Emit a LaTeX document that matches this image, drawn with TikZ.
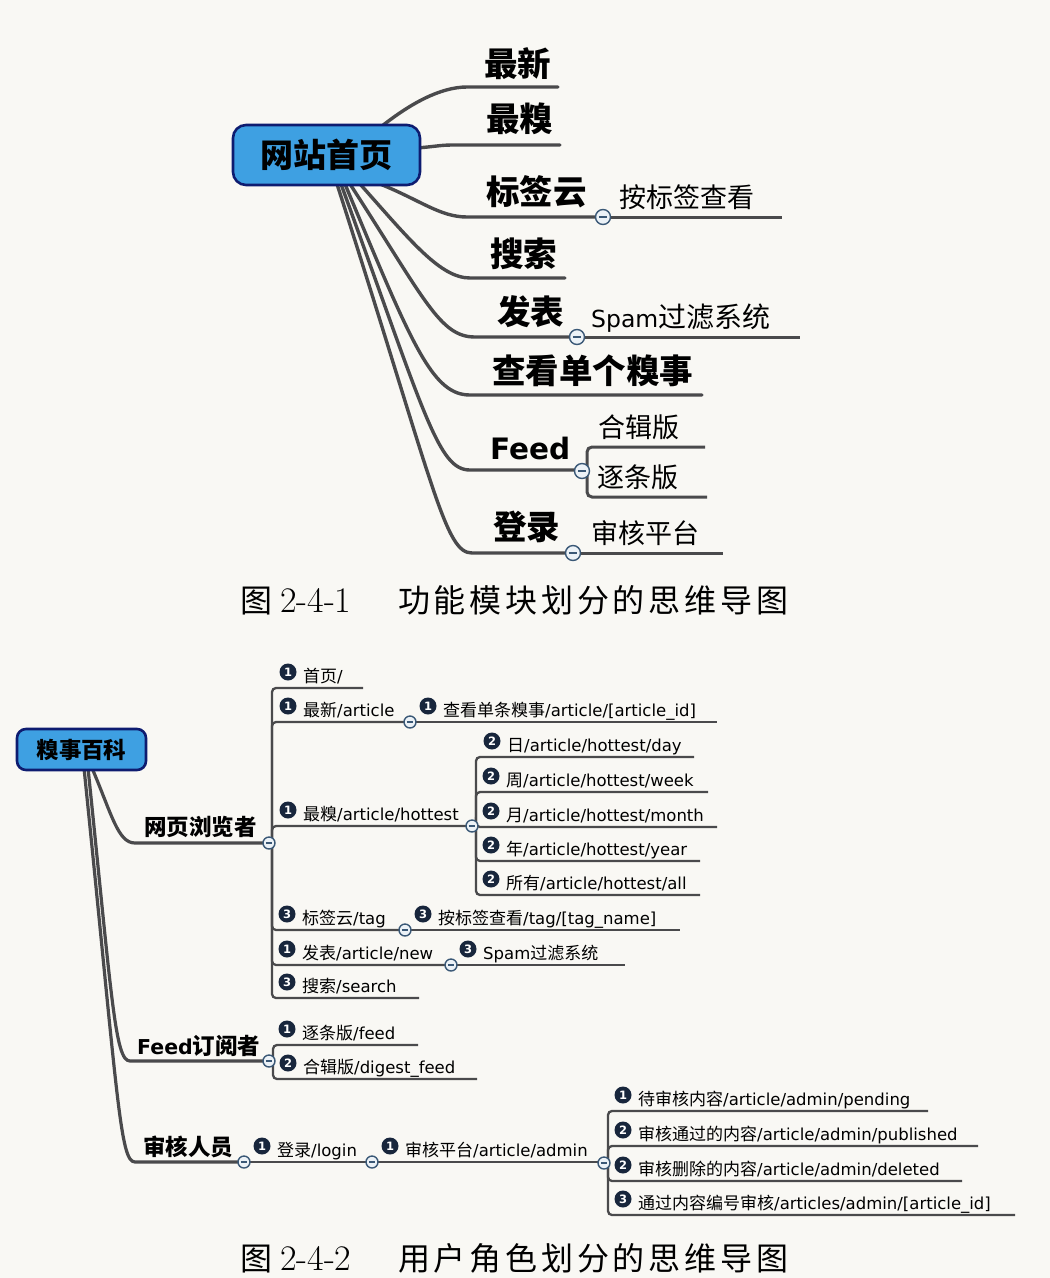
\documentclass[tikz,border=0pt]{standalone}
\usepackage{fontspec}
\setsansfont{DejaVu Sans}
\newfontfamily\cjk{Noto Sans CJK SC}
\definecolor{bgc}{RGB}{249,248,244}
\definecolor{lnc}{RGB}{74,74,76}
\definecolor{rootfill}{RGB}{62,160,226}
\definecolor{rootdraw}{RGB}{14,28,112}
\definecolor{collfill}{RGB}{236,242,247}
\definecolor{colldraw}{RGB}{58,88,118}
\definecolor{prioc}{RGB}{24,38,60}
\newcommand\C[1]{{\cjk\fontsize{17}{20}\selectfont #1}}
% top item: name, x0, x1, y, text x, baseline y, style, text
\newcommand\titem[8]{%
  \coordinate (#1-s) at (#2,#4);
  \coordinate (#1-e) at (#3,#4);
  \node[#7] (#1) at (#5,#6) {#8};}
% bottom item: name, x0, x1, y, digit, text x, text
\newcommand\bitem[7]{%
  \coordinate (#1-s) at (#2,#4);
  \coordinate (#1-e) at (#3,#4);
  \node[prio] (#1-p) at (#6-15,#4-16) {#5};
  \node[btxt] (#1) at (#6,#4-5.5) {#7};}
\tikzset{
  tbr/.style={draw=lnc, line width=3.4pt, line cap=round},
  tul/.style={draw=lnc, line width=3pt, rounded corners=5pt},
  bbr/.style={draw=lnc, line width=3.2pt, line cap=round},
  bul/.style={draw=lnc, line width=2.3pt, rounded corners=4pt},
  coll/.style={circle, draw=colldraw, fill=collfill, line width=1.4pt, inner sep=0pt,
    minimum size=#1,
    path picture={\draw[colldraw, line width=1.4pt]
      ([xshift=-0.27*#1]path picture bounding box.center) --
      ([xshift=0.27*#1]path picture bounding box.center);}},
  prio/.style={circle, fill=prioc, text=white, inner sep=0pt, minimum size=17pt,
    font=\sffamily\bfseries\fontsize{11.5}{11.5}\selectfont},
  tbig/.style={anchor=base west, inner sep=0pt, font=\cjk\bfseries\fontsize{33.5}{37}\selectfont},
  tsm/.style={anchor=base west, inner sep=0pt, font=\cjk\fontsize{27}{30}\selectfont},
  btxt/.style={anchor=base west, inner sep=0pt, font=\sffamily\fontsize{16.5}{20}\selectfont},
  lone/.style={anchor=base west, inner sep=0pt, font=\cjk\bfseries\fontsize{22.5}{26}\selectfont},
  rootbox/.style={rectangle, rounded corners=#1, fill=rootfill, draw=rootdraw,
    line width=2.6pt, inner sep=0pt},
  capt/.style={anchor=base west, inner sep=0pt, font=\cjk\fontsize{32}{36}\selectfont},
  capn/.style={anchor=base west, inner sep=0pt, font=\rmfamily\fontsize{36}{40}\selectfont},
}
\newcommand\K{\kern3.8pt }
\begin{document}
\begin{tikzpicture}[x=1pt,y=-1pt]
\fill[bgc] (0,0) rectangle (1050,1278);
\useasboundingbox (0,0) rectangle (1050,1278);

%================ TOP MIND MAP =================
\titem{zx}{467}{558}{87}{484}{76.5}{tbig}{最新}
\titem{zq}{452}{560}{145}{486}{131.5}{tbig}{最糗}
\titem{bq}{467}{603}{217}{486}{204.5}{tbig}{标签云}
\titem{ak}{603}{782}{217}{619}{207.5}{tsm}{按标签查看}
\titem{ss}{470}{565}{278}{490}{266.5}{tbig}{搜索}
\titem{fb}{475}{577}{337}{497}{324.5}{tbig}{发表}
\titem{sp}{577}{800}{337}{591}{327.5}{tsm}{{\sffamily\fontsize{23.5}{28}\selectfont Spam}{\fontsize{28}{30}\selectfont 过滤系统}}
\titem{ck}{470}{702}{395}{492}{383.5}{tbig}{查看单个糗事}
\titem{fd}{470}{582}{470}{490}{459.5}{tbig}{{\sffamily\bfseries\fontsize{29.5}{34}\selectfont Feed}}
\titem{hj}{587}{705}{447}{598}{437.5}{tsm}{合辑版}
\titem{zt}{587}{707}{497}{597}{487.5}{tsm}{逐条版}
\titem{dl}{472}{573}{553}{493}{539.5}{tbig}{登录}
\titem{sh}{573}{723}{553}{591}{543.5}{tsm}{审核平台}

% start points on the root
\coordinate (r1) at (382,126);
\coordinate (r2) at (416,148);
\coordinate (r3) at (380,184);
\coordinate (r4) at (360,184);
\coordinate (r5) at (350,184);
\coordinate (r6) at (345,184);
\coordinate (r7) at (341,184);
\coordinate (r8) at (337,184);

\draw[tbr] (r1) .. controls (410,104) and (440,87) .. (zx-s) -- (zx-e);
\draw[tbr] (r2) .. controls (432,147) and (440,145) .. (zq-s) -- (zq-e);
\draw[tbr] (r3) .. controls (420,200) and (440,217) .. (bq-s) -- (bq-e);
\draw[tbr] (r4) .. controls (410,240) and (440,278) .. (ss-s) -- (ss-e);
\draw[tbr] (r5) .. controls (425,300) and (440,337) .. (fb-s) -- (fb-e);
\draw[tbr] (r6) .. controls (412,345) and (432,395) .. (ck-s) -- (ck-e);
\draw[tbr] (r7) .. controls (425,415) and (438,470) .. (fd-s) -- (fd-e);
\draw[tbr] (r8) .. controls (435,490) and (445,553) .. (dl-s) -- (dl-e);

\draw[tul] (bq-e) -- (ak-e);
\draw[tul] (fb-e) -- (sp-e);
\draw[tul] (dl-e) -- (sh-e);
\coordinate (fdbar) at (587,470);
\draw[tul] (fdbar) |- (hj-e);
\draw[tul] (fdbar) |- (zt-e);

\node[coll=15pt] (c-bq) at (bq-e) {};
\node[coll=15pt] (c-fb) at (fb-e) {};
\node[coll=15pt] (c-fd) at (582,471) {};
\node[coll=15pt] (c-dl) at (dl-e) {};

\node[rootbox=13pt, minimum width=187pt, minimum height=60pt,
      font=\cjk\bfseries\fontsize{33}{37}\selectfont] (root) at (326.5,155) {网站首页};

\node[capt] (cap1a) at (240,612) {图};
\node[capn] (cap1b) at (280,612) {2-4-1};
\node[capt] (cap1c) at (398,612) {功\K 能\K 模\K 块\K 划\K 分\K 的\K 思\K 维\K 导\K 图};

%================ BOTTOM MIND MAP =================
\bitem{shouye}{272}{363}{688}{1}{303}{\C{首页}/}
\bitem{zuixin}{272}{410}{722}{1}{303}{\C{最新}/article}
\bitem{chakan}{410}{717}{722}{1}{443}{\C{查看单条糗事}/article/[article\_id]}
\bitem{zuiqiu}{272}{472}{826}{1}{303}{\C{最糗}/article/hottest}
\bitem{day}{476}{694}{757}{2}{507}{\C{日}/article/hottest/day}
\bitem{week}{476}{708}{792}{2}{506}{\C{周}/article/hottest/week}
\bitem{month}{476}{717}{827}{2}{506}{\C{月}/article/hottest/month}
\bitem{year}{476}{700}{861}{2}{506}{\C{年}/article/hottest/year}
\bitem{all}{476}{700}{895}{2}{506}{\C{所有}/article/hottest/all}
\bitem{tag}{272}{405}{930}{3}{302}{\C{标签云}/tag}
\bitem{tagname}{405}{680}{930}{3}{438}{\C{按标签查看}/tag/[tag\_name]}
\bitem{new}{272}{451}{965}{1}{302}{\C{发表}/article/new}
\bitem{spam}{451}{625}{965}{3}{483}{Spam\C{过滤系统}}
\bitem{search}{272}{419}{998}{3}{302}{\C{搜索}/search}
\bitem{feed}{273}{418}{1045}{1}{302}{\C{逐条版}/feed}
\bitem{digest}{273}{477}{1079}{2}{303}{\C{合辑版}/digest\_feed}
\bitem{login}{244}{372}{1162}{1}{277}{\C{登录}/login}
\bitem{admin}{372}{604}{1162}{1}{405}{\C{审核平台}/article/admin}
\bitem{pending}{608}{928}{1111}{1}{638}{\C{待审核内容}/article/admin/pending}
\bitem{published}{608}{978}{1146}{2}{638}{\C{审核通过的内容}/article/admin/published}
\bitem{deleted}{608}{962}{1181}{2}{638}{\C{审核删除的内容}/article/admin/deleted}
\bitem{aid}{608}{1015}{1215}{3}{638}{\C{通过内容编号审核}/articles/admin/[article\_id]}

% level one
\coordinate (web-e) at (269,843);
\coordinate (fdy-e) at (269,1061);
\coordinate (shr-e) at (244,1162);
\node[lone] (web) at (144,835) {网页浏览者};
\node[lone] (fdy) at (137,1054) {{\sffamily\bfseries\fontsize{20.5}{24}\selectfont Feed}订阅者};
\node[lone] (shr) at (143,1155) {审核人员};

\coordinate (b1) at (92,768);
\coordinate (b2) at (88,768);
\coordinate (b3) at (84,768);
\draw[bbr] (b1) .. controls (112,815) and (118,843) .. (135,843) -- (web-e);
\draw[bbr] (b2) .. controls (112,1000) and (115,1061) .. (130,1061) -- (fdy-e);
\draw[bbr] (b3) .. controls (118,1100) and (120,1162) .. (135,1162) -- (shr-e);

% children of 网页浏览者
\coordinate (webbar) at (272,843);
\foreach \c in {shouye,zuixin,zuiqiu,tag,new,search}
  \draw[bul] (webbar) |- (\c-e);
\draw[bul] (zuixin-e) -- (chakan-e);
\draw[bul] (tag-e) -- (tagname-e);
\draw[bul] (new-e) -- (spam-e);
\coordinate (qbar) at (476,826);
\foreach \c in {day,week,month,year,all}
  \draw[bul] (qbar) |- (\c-e);
% children of Feed订阅者
\coordinate (fdybar) at (273,1061);
\foreach \c in {feed,digest}
  \draw[bul] (fdybar) |- (\c-e);
% children of 审核人员
\draw[bul] (shr-e) -- (login-e);
\draw[bul] (login-e) -- (admin-e);
\coordinate (abar) at (608,1162);
\foreach \c in {pending,published,deleted,aid}
  \draw[bul] (abar) |- (\c-e);

\node[coll=12pt] (cw) at (web-e) {};
\node[coll=12pt] (cf) at (fdy-e) {};
\node[coll=12pt] (cs) at (shr-e) {};
\node[coll=12pt] (czx) at (zuixin-e) {};
\node[coll=12pt] (czq) at (472,826) {};
\node[coll=12pt] (ctg) at (tag-e) {};
\node[coll=12pt] (cnw) at (new-e) {};
\node[coll=12pt] (clg) at (login-e) {};
\node[coll=12pt] (cad) at (604,1163) {};

\node[rootbox=9pt, minimum width=129pt, minimum height=41pt,
      font=\cjk\bfseries\fontsize{22.5}{26}\selectfont] (root2) at (81.5,749.5) {糗事百科};

\node[capt] (cap2a) at (240,1270) {图};
\node[capn] (cap2b) at (280,1270) {2-4-2};
\node[capt] (cap2c) at (398,1270) {用\K 户\K 角\K 色\K 划\K 分\K 的\K 思\K 维\K 导\K 图};
\end{tikzpicture}
\end{document}
